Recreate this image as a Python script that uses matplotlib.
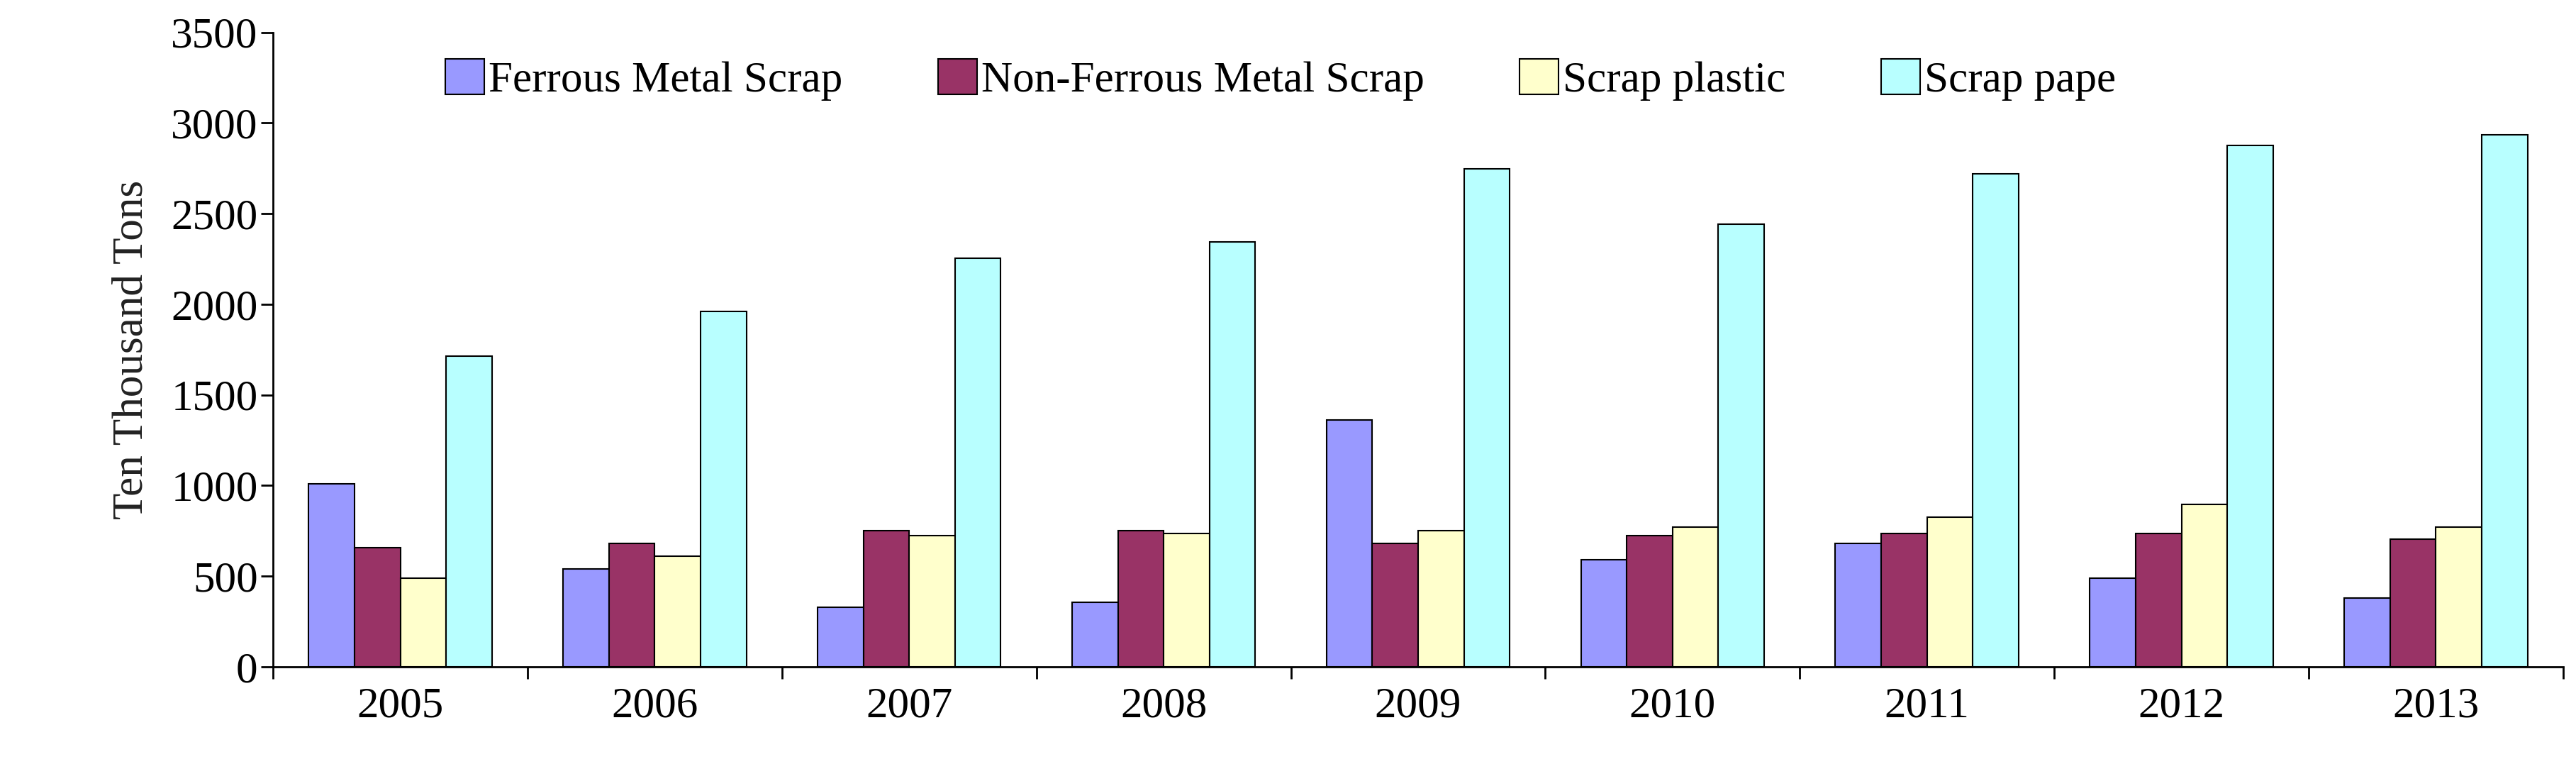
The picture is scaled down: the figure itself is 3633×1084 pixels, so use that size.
import numpy as np
import matplotlib.pyplot as plt

plt.rcParams['font.family'] = ['Liberation Serif', 'DejaVu Serif']

years = ["2005", "2006", "2007", "2008", "2009", "2010", "2011", "2012", "2013"]
ferrous = [1010, 540, 330, 355, 1360, 590, 680, 490, 380]
nonferrous = [655, 680, 750, 750, 680, 725, 735, 735, 705]
plastic = [490, 610, 725, 735, 750, 770, 825, 895, 770]
paper = [1715, 1960, 2255, 2345, 2745, 2440, 2720, 2875, 2935]

labels = ["Ferrous Metal Scrap", "Non-Ferrous Metal Scrap", "Scrap plastic", "Scrap pape"]
colors = ["#9999FF", "#993366", "#FFFFCC", "#B8FFFF"]

fig = plt.figure(figsize=(36.33, 10.84), dpi=100)
ax = fig.add_axes([0.106, 0.133, 0.889, 0.825])

x = np.arange(len(years))
w = 0.18
for k, (vals, lab, col) in enumerate(zip([ferrous, nonferrous, plastic, paper], labels, colors)):
    ax.bar(x + (k - 1.5) * w, vals, w, color=col, edgecolor="black", linewidth=1.5, label=lab)

ax.set_xlim(-0.5, len(years) - 0.5)
ax.set_ylim(0, 3500)
ax.set_yticks(np.arange(0, 3501, 500))
ax.set_xticks(x)
ax.set_xticklabels(years)
ax.set_xticks(np.arange(-0.5, len(years), 1), minor=True)
ax.tick_params(axis='both', labelsize=44, width=2, length=12)
ax.tick_params(axis='x', which='major', length=0, pad=20)
ax.tick_params(axis='x', which='minor', length=12, width=2)
for s in ["top", "right"]:
    ax.spines[s].set_visible(False)
for s in ["left", "bottom"]:
    ax.spines[s].set_linewidth(2)
ax.set_ylabel("Ten Thousand Tons", fontsize=44, color="#222222", labelpad=20)
ax.legend(loc="upper center", ncol=4, frameon=False, fontsize=44,
          bbox_to_anchor=(0.44, 1.02), handlelength=0.9, handleheight=0.9,
          handletextpad=0.1, columnspacing=2.2)
fig.savefig("out.png", dpi=100)
